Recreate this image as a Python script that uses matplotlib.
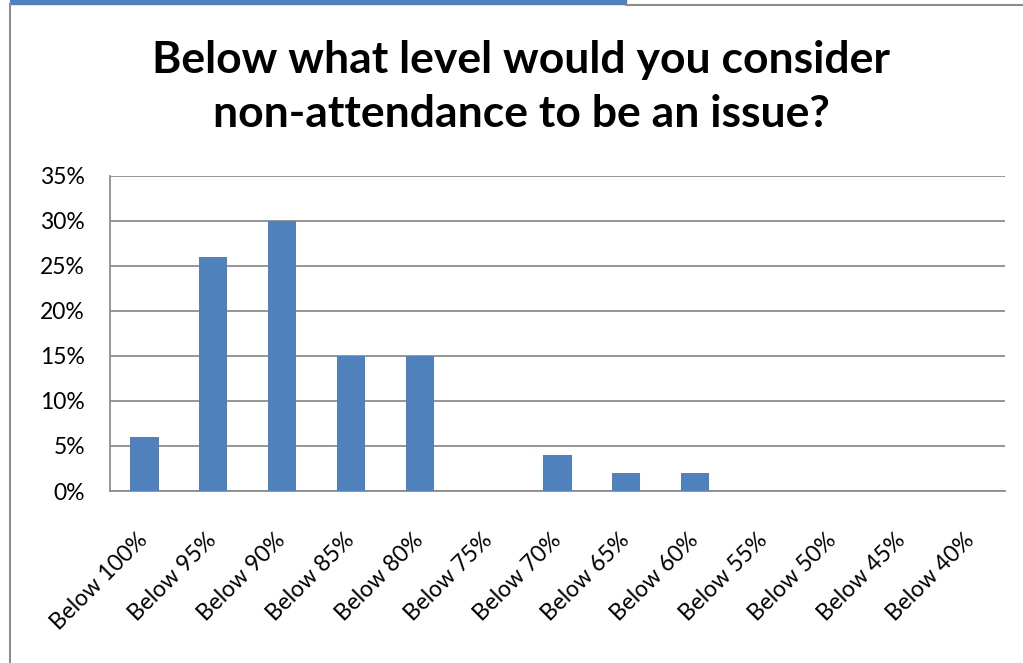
import matplotlib
matplotlib.use("Agg")
import matplotlib.pyplot as plt
from matplotlib.lines import Line2D
from matplotlib.patches import Rectangle
import matplotlib.transforms as mtransforms

categories = ["Below 100%", "Below 95%", "Below 90%", "Below 85%", "Below 80%",
              "Below 75%", "Below 70%", "Below 65%", "Below 60%", "Below 55%",
              "Below 50%", "Below 45%", "Below 40%"]
values = [6, 26, 30, 15, 15, 0, 4, 2, 2, 0, 0, 0, 0]
y_ticks = [0, 5, 10, 15, 20, 25, 30, 35]
y_tick_labels = [f"{t}%" for t in y_ticks]
title = "Below what level would you consider\nnon-attendance to be an issue?"

plt.rcParams["font.family"] = ["Lato", "DejaVu Sans"]

W, H = 1023, 663
fig = plt.figure(figsize=(W / 100, H / 100), dpi=100)
fig.patch.set_facecolor("white")

# plot area in pixel coordinates
left, right, top, bottom = 110, 1005, 175.5, 491
ax = fig.add_axes([left / W, 1 - bottom / H, (right - left) / W, (bottom - top) / H])

bar_color = "#4F81BD"
x = list(range(len(categories)))
ax.bar(x, values, width=0.41, color=bar_color, zorder=3)

ax.set_xlim(-0.5, len(categories) - 0.5)
ax.set_ylim(0, 35)
ax.set_yticks(y_ticks)
ax.set_yticklabels(y_tick_labels, fontsize=16.5)
ax.yaxis.grid(True, color="#8c8c8c", linewidth=1.3, zorder=0)
ax.set_axisbelow(True)

for side in ["top", "right"]:
    ax.spines[side].set_visible(False)
for side in ["left", "bottom"]:
    ax.spines[side].set_color("#8c8c8c")
    ax.spines[side].set_linewidth(1.3)

ax.tick_params(axis="both", length=0)
ax.tick_params(axis="y", pad=18)
ax.set_xticks(x)
ax.set_xticklabels(categories, fontsize=16.5, rotation=45, ha="right",
                   va="center", rotation_mode="anchor")
ax.tick_params(axis="x", pad=33)
offset = mtransforms.ScaledTranslation(0, 0, fig.dpi_scale_trans)
for lbl in ax.get_xticklabels():
    lbl.set_transform(lbl.get_transform() + offset)

fig.text(521 / W, 1 - 87 / H, title, ha="center", va="center",
         fontsize=32, fontweight="bold", linespacing=1.4)

# frame around the chart
fig.add_artist(Line2D([10 / W, 10 / W], [0, 1 - 4 / H], color="#8c8c8c",
                      linewidth=1.5, transform=fig.transFigure))
fig.add_artist(Line2D([626 / W, 1], [1 - 4.5 / H, 1 - 4.5 / H], color="#8c8c8c",
                      linewidth=1.5, transform=fig.transFigure))
fig.add_artist(Rectangle((10 / W, 1 - 3.5 / H), 616 / W, 3.5 / H,
                         color=bar_color, transform=fig.transFigure))

fig.savefig("out.png", dpi=100)
